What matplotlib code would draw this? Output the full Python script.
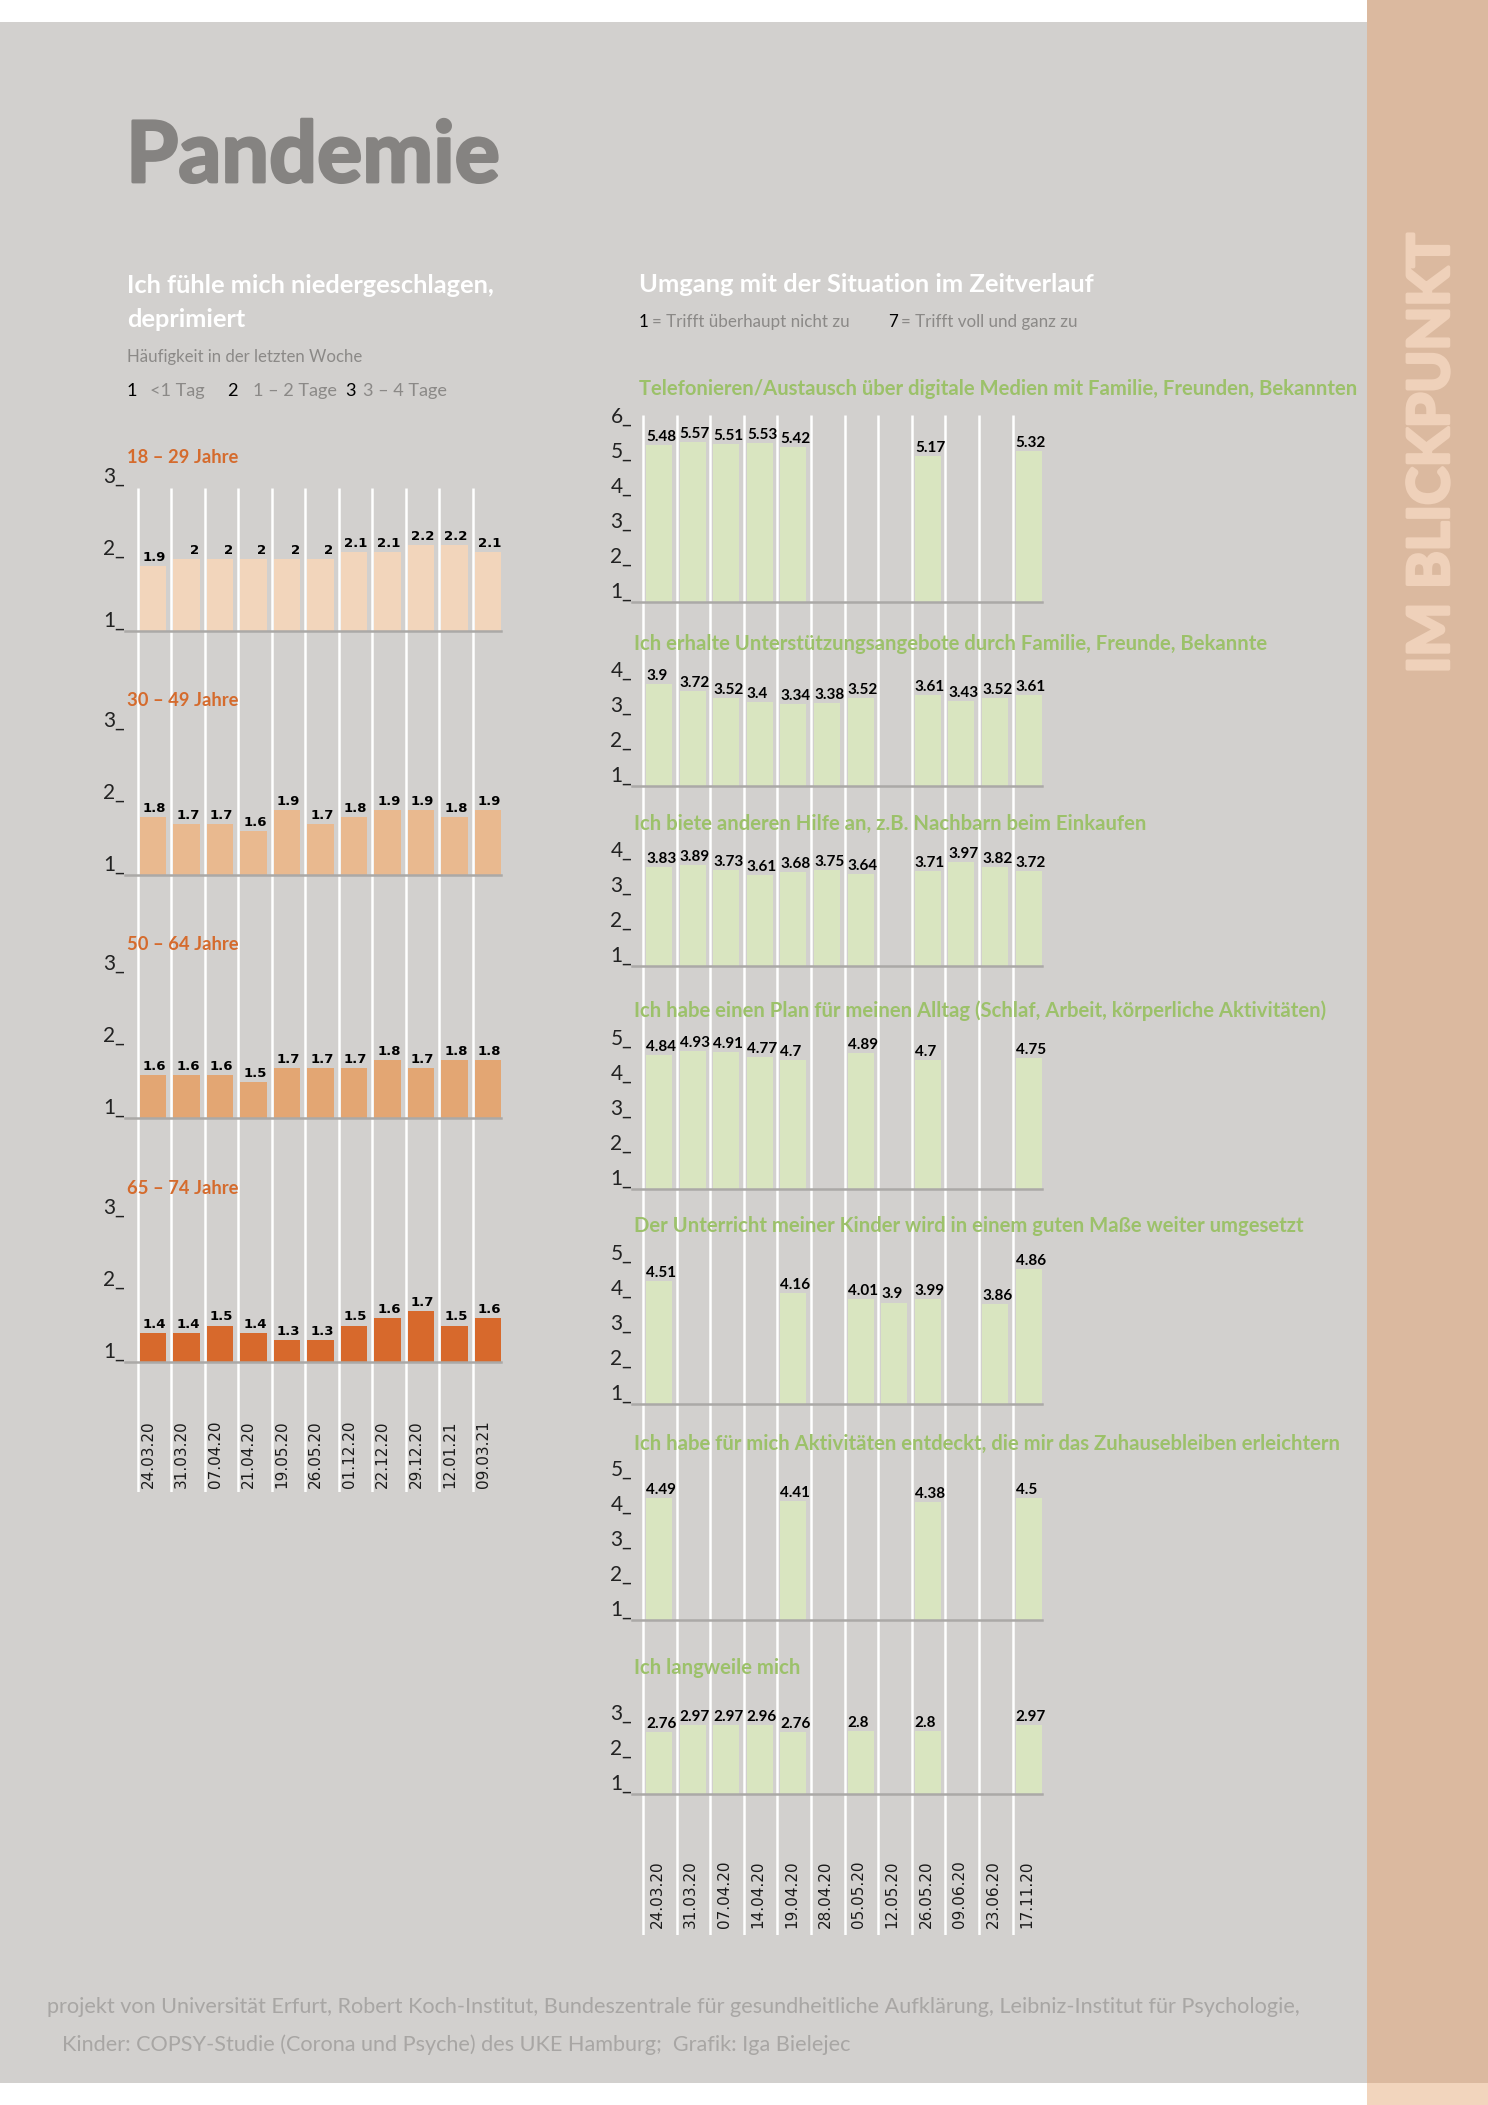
import numpy as np
import matplotlib
matplotlib.use('Agg')
import matplotlib.pyplot as plt
import matplotlib.patheffects as pe
from matplotlib.patches import Rectangle

plt.rcParams['font.family'] = ['Lato', 'DejaVu Sans']

# ---- data ----
left_dates = ['24.03.20', '31.03.20', '07.04.20', '21.04.20', '19.05.20', '26.05.20',
              '01.12.20', '22.12.20', '29.12.20', '12.01.21', '09.03.21']
age_groups = ['18 – 29 Jahre', '30 – 49 Jahre', '50 – 64 Jahre', '65 – 74 Jahre']
dep_18_29 = [1.9, 2, 2, 2, 2, 2, 2.1, 2.1, 2.2, 2.2, 2.1]
dep_30_49 = [1.8, 1.7, 1.7, 1.6, 1.9, 1.7, 1.8, 1.9, 1.9, 1.8, 1.9]
dep_50_64 = [1.6, 1.6, 1.6, 1.5, 1.7, 1.7, 1.7, 1.8, 1.7, 1.8, 1.8]
dep_65_74 = [1.4, 1.4, 1.5, 1.4, 1.3, 1.3, 1.5, 1.6, 1.7, 1.5, 1.6]
dep_values = [dep_18_29, dep_30_49, dep_50_64, dep_65_74]

right_dates = ['24.03.20', '31.03.20', '07.04.20', '14.04.20', '19.04.20', '28.04.20',
               '05.05.20', '12.05.20', '26.05.20', '09.06.20', '23.06.20', '17.11.20']
n = np.nan
item_titles = [
    'Telefonieren/Austausch über digitale Medien mit Familie, Freunden, Bekannten',
    'Ich erhalte Unterstützungsangebote durch Familie, Freunde, Bekannte',
    'Ich biete anderen Hilfe an, z.B. Nachbarn beim Einkaufen',
    'Ich habe einen Plan für meinen Alltag (Schlaf, Arbeit, körperliche Aktivitäten)',
    'Der Unterricht meiner Kinder wird in einem guten Maße weiter umgesetzt',
    'Ich habe für mich Aktivitäten entdeckt, die mir das Zuhausebleiben erleichtern',
    'Ich langweile mich',
]
telefon = [5.48, 5.57, 5.51, 5.53, 5.42, n, n, n, 5.17, n, n, 5.32]
unterstuetzung = [3.9, 3.72, 3.52, 3.4, 3.34, 3.38, 3.52, n, 3.61, 3.43, 3.52, 3.61]
hilfe = [3.83, 3.89, 3.73, 3.61, 3.68, 3.75, 3.64, n, 3.71, 3.97, 3.82, 3.72]
plan = [4.84, 4.93, 4.91, 4.77, 4.7, n, 4.89, n, 4.7, n, n, 4.75]
unterricht = [4.51, n, n, n, 4.16, n, 4.01, 3.9, 3.99, n, 3.86, 4.86]
aktivitaeten = [4.49, n, n, n, 4.41, n, n, n, 4.38, n, n, 4.5]
langeweile = [2.76, 2.97, 2.97, 2.96, 2.76, n, 2.8, n, 2.8, n, n, 2.97]
item_values = [telefon, unterstuetzung, hilfe, plan, unterricht, aktivitaeten, langeweile]
item_ymax = [6, 4, 4, 5, 5, 5, 3]

# ---- layout (pixels of the 1488x2105 page) ----
W, H = 1488, 2105
fig = plt.figure(figsize=(W / 100, H / 100), dpi=100)
fig.patch.set_facecolor('white')
renderer = fig.canvas.get_renderer()

BG = '#d2d0ce'
GREEN_BAR = '#d9e5c0'
GREEN_TXT = '#9cc16a'
ORANGE = '#d56b2d'
LEFT_COLORS = ['#f2d5bb', '#e9b98f', '#e3a673', '#d7692c']
BASE = '#aba9a7'
GRAY_TXT = '#8b8987'
STRIP_TXT = '#efd1ba'


def px_axes(x0, y0, x1, y1, z=1):
    ax = fig.add_axes([x0 / W, 1 - y1 / H, (x1 - x0) / W, (y1 - y0) / H], zorder=z)
    ax.patch.set_visible(False)
    for s in ax.spines.values():
        s.set_visible(False)
    ax.set_xticks([])
    ax.set_yticks([])
    return ax


def fit(ax, x, y, s, width, size0=20, **kw):
    t = ax.text(x, y, s, fontsize=size0, **kw)
    w = t.get_window_extent(renderer=renderer).width
    t.set_fontsize(size0 * width / w)
    return t


bg = px_axes(0, 0, W, H, z=0)
bg.set_xlim(0, W)
bg.set_ylim(H, 0)
bg.add_patch(Rectangle((0, 22), 1367, 2061, color=BG, lw=0))
bg.add_patch(Rectangle((1367, 0), 121, 2083, color='#dbb99f', lw=0))
bg.add_patch(Rectangle((1367, 2083), 121, 22, color='#f2d5bd', lw=0))

txt = px_axes(0, 0, W, H, z=5)
txt.set_xlim(0, W)
txt.set_ylim(H, 0)

# strip text
t = fit(txt, 1432, 453, 'IM BLICKPUNKT', 440, color=STRIP_TXT, fontweight='bold',
        ha='center', va='center')
t.set_rotation(90)
t.set_path_effects([pe.withStroke(linewidth=2.5, foreground=STRIP_TXT)])

# headings
t = fit(txt, 126, 182, 'Pandemie', 374, color='#858381', fontweight='bold', va='baseline')
t.set_path_effects([pe.withStroke(linewidth=2, foreground='#858381')])
t = fit(txt, 127, 293, 'Ich fühle mich niedergeschlagen,', 368, color='white',
        fontweight='bold', va='baseline')
txt.text(127, 327, 'deprimiert', color='white', fontweight='bold', va='baseline',
         fontsize=t.get_fontsize())
t = fit(txt, 127, 362, 'Häufigkeit in der letzten Woche', 236, color=GRAY_TXT, va='baseline')
fs_small = t.get_fontsize()
for x, s, c in [(127, '1', 'black'), (150, '<1 Tag', GRAY_TXT), (227, '2', 'black'),
                (253, '1 – 2 Tage', GRAY_TXT), (345, '3', 'black'), (363, '3 – 4 Tage', GRAY_TXT)]:
    txt.text(x, 396, s, color=c, fontsize=fs_small * 1.08, va='baseline')

fit(txt, 639, 292, 'Umgang mit der Situation im Zeitverlauf', 454, color='white',
    fontweight='bold', va='baseline')
t = fit(txt, 652, 327, '= Trifft überhaupt nicht zu', 199, color=GRAY_TXT, va='baseline')
fs_r = t.get_fontsize()
txt.text(639, 327, '1', color='black', fontsize=fs_r, va='baseline')
txt.text(888, 327, '7', color='black', fontsize=fs_r, va='baseline')
txt.text(901, 327, '= Trifft voll und ganz zu', color=GRAY_TXT, fontsize=fs_r, va='baseline')

# footer
t = fit(txt, 47, 2013, 'projekt von Universität Erfurt, Robert Koch-Institut, Bundeszentrale für '
        'gesundheitliche Aufklärung, Leibniz-Institut für Psychologie,', 1253,
        color='#a8a6a4', va='baseline')
txt.text(62, 2051, 'Kinder: COPSY-Studie (Corona und Psyche) des UKE Hamburg;  Grafik: Iga Bielejec',
         color='#a8a6a4', fontsize=t.get_fontsize(), va='baseline')


def ytick_labels(ax, top, size):
    for v in range(1, top + 1):
        ax.text(0, v, f'{v}_', transform=ax.get_yaxis_transform(), ha='right', va='bottom',
                fontsize=size, color='#222222')


# ---- left column ----
L_SLOT, L_X0 = 33.5, 138
l_xlim = ((125 - L_X0) / L_SLOT, (501 - L_X0) / L_SLOT)
left_base = [631, 874.5, 1118, 1361.5]
L_UNIT = 72

lines = px_axes(125, 488, 501, 1492, z=2)
lines.set_xlim(*l_xlim)
lines.set_ylim(0, 1)
lines.vlines(np.arange(len(left_dates)), 0, 1, color='white', lw=1.8)
for i, d in enumerate(left_dates):
    lines.text(i + 0.3, 0.004, d, rotation=90, ha='center', va='bottom',
               fontfamily='DejaVu Sans', fontsize=11, color='#1a1a1a')

age_fs = None
for k, (label, vals) in enumerate(zip(age_groups, dep_values)):
    b = left_base[k]
    ax = px_axes(125, b - 2 * L_UNIT, 501, b, z=3)
    ax.set_xlim(*l_xlim)
    ax.set_ylim(1, 3)
    x = np.arange(len(vals)) + 0.048
    v = np.array(vals)
    ax.bar(x, v - 1, bottom=1, width=0.79, align='edge', color=LEFT_COLORS[k], lw=0)
    ax.axhline(1, color=BASE, lw=1.8, clip_on=False)
    for xi, vi in zip(x, v):
        ax.annotate(f'{vi:g}', (xi + 0.79, vi), xytext=(0, 5), textcoords='offset pixels',
                    ha='right', va='baseline', fontfamily='DejaVu Sans', fontweight='bold',
                    fontsize=9.5, color='black', annotation_clip=False)
    ytick_labels(ax, 3, 15)
    if age_fs is None:
        t = fit(txt, 127, b - 168, label, 111, color=ORANGE, fontweight='bold', va='baseline')
        age_fs = t.get_fontsize()
    else:
        txt.text(127, b - 168, label, color=ORANGE, fontweight='bold', va='baseline',
                 fontsize=age_fs)

# ---- right column ----
R_SLOT, R_X0 = 33.6, 643
r_xlim = ((632 - R_X0) / R_SLOT, (1042 - R_X0) / R_SLOT)
right_base = [602, 786, 966, 1189, 1404, 1620, 1794]
title_y = [395, 650, 830, 1017, 1232, 1450, 1674]
title_x = [639, 634, 634, 634, 634, 634, 634]
R_UNIT = 35

lines = px_axes(632, 415, 1042, 1935, z=2)
lines.set_xlim(*r_xlim)
lines.set_ylim(0, 1)
lines.vlines(np.arange(len(right_dates)), 0, 1, color='white', lw=1.8)
for i, d in enumerate(right_dates):
    lines.text(i + 0.42, 0.0046, d, rotation=90, ha='center', va='bottom',
               fontfamily='DejaVu Sans', fontsize=11, color='#1a1a1a')

title_fs = None
for k, (title, vals) in enumerate(zip(item_titles, item_values)):
    b = right_base[k]
    top = item_ymax[k]
    ax = px_axes(632, b - (top - 1) * R_UNIT, 1042, b, z=3)
    ax.set_xlim(*r_xlim)
    ax.set_ylim(1, top)
    v = np.array(vals, dtype=float)
    ok = ~np.isnan(v)
    x = np.arange(len(v)) + 0.09
    ax.bar(x[ok], v[ok] - 1, bottom=1, width=0.774, align='edge', color=GREEN_BAR, lw=0)
    ax.axhline(1, color=BASE, lw=1.8, clip_on=False)
    for xi, vi in zip(x[ok], v[ok]):
        ax.annotate(f'{vi:g}', (xi, vi), xytext=(0, 4), textcoords='offset pixels',
                    ha='left', va='baseline', fontweight='bold', fontsize=11,
                    color='black', annotation_clip=False)
    ytick_labels(ax, top, 15)
    if title_fs is None:
        t = fit(txt, title_x[k], title_y[k], title, 717, color=GREEN_TXT,
                fontweight='bold', va='baseline')
        title_fs = t.get_fontsize()
    else:
        txt.text(title_x[k], title_y[k], title, color=GREEN_TXT, fontweight='bold',
                 va='baseline', fontsize=title_fs)

fig.savefig('out.png', dpi=100, facecolor='white')
